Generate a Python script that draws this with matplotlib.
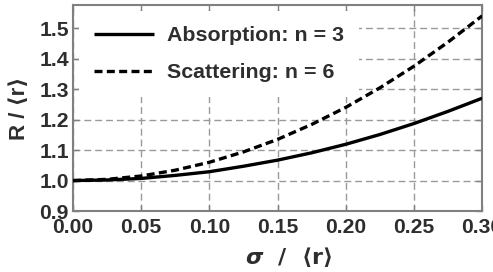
import numpy as np
import matplotlib
matplotlib.use('Agg')
import matplotlib.pyplot as plt

# Values
sigma = [0.000, 0.025, 0.050, 0.075, 0.100, 0.125, 0.150,
         0.175, 0.200, 0.225, 0.250, 0.275, 0.300]
absorption_n3 = [1.000, 1.002, 1.007, 1.017, 1.029, 1.047, 1.067,
                 1.091, 1.119, 1.151, 1.187, 1.227, 1.270]
scattering_n6 = [1.000, 1.004, 1.015, 1.034, 1.060, 1.094, 1.135,
                 1.184, 1.240, 1.304, 1.375, 1.454, 1.540]

x_ticks = [0.00, 0.05, 0.10, 0.15, 0.20, 0.25, 0.30]
y_ticks = [0.9, 1.0, 1.1, 1.2, 1.3, 1.4, 1.5]

plt.rcParams['font.family'] = ['Liberation Sans', 'DejaVu Sans']
plt.rcParams['font.weight'] = 'bold'
plt.rcParams['axes.labelweight'] = 'bold'
# bold math text so sigma and the angle brackets match the labels
plt.rcParams['mathtext.fontset'] = 'custom'
plt.rcParams['mathtext.rm'] = 'DejaVu Sans:bold'
plt.rcParams['mathtext.it'] = 'DejaVu Sans:italic:bold'

TEXT = '#2e2e2e'
FRAME = '#808080'

fig = plt.figure(figsize=(4.93, 2.72), dpi=100)
ax = fig.add_axes([0.148, 0.224, 0.830, 0.758])

ax.plot(sigma, absorption_n3, color='black', lw=2.4, solid_capstyle='butt',
        label='Absorption: n = 3', zorder=3)
ax.plot(sigma, scattering_n6, color='black', lw=2.4, dashes=(2.4, 1.3),
        label='Scattering: n = 6', zorder=3)

ax.set_xlim(0, 0.30)
ax.set_ylim(0.9, 1.576)
ax.set_xticks(x_ticks)
ax.set_yticks(y_ticks)
ax.set_xticklabels([f'{v:.2f}' for v in x_ticks])
ax.set_yticklabels([f'{v:.1f}' for v in y_ticks])

ax.grid(True, color='#9a9a9a', lw=1.0, dashes=(5, 2.8))
ax.set_axisbelow(True)

ax.tick_params(direction='in', top=True, right=True, length=4, width=1,
               color=FRAME, labelsize=15.2, labelcolor=TEXT)
ax.tick_params(axis='x', pad=5)
ax.tick_params(axis='y', pad=3)
for sp in ax.spines.values():
    sp.set_color(FRAME)
    sp.set_linewidth(1.5)

ax.set_xlabel(r'$\sigma\ \ /\ \ \langle\mathrm{r}\rangle$', fontsize=16, color=TEXT)
ax.set_ylabel('R / ⟨r⟩', fontsize=16, color=TEXT)
ax.xaxis.set_label_coords(0.526, -0.165)
ax.yaxis.set_label_coords(-0.105, 0.5)

leg = ax.legend(loc='upper left', fontsize=15.4, frameon=True, fancybox=False,
                facecolor='white', edgecolor='none', framealpha=1,
                handlelength=2.8, handletextpad=0.6, labelspacing=0.85,
                borderpad=0.7, borderaxespad=0.3, labelcolor=TEXT)
leg.set_zorder(2)

fig.savefig('out.png', dpi=100)
